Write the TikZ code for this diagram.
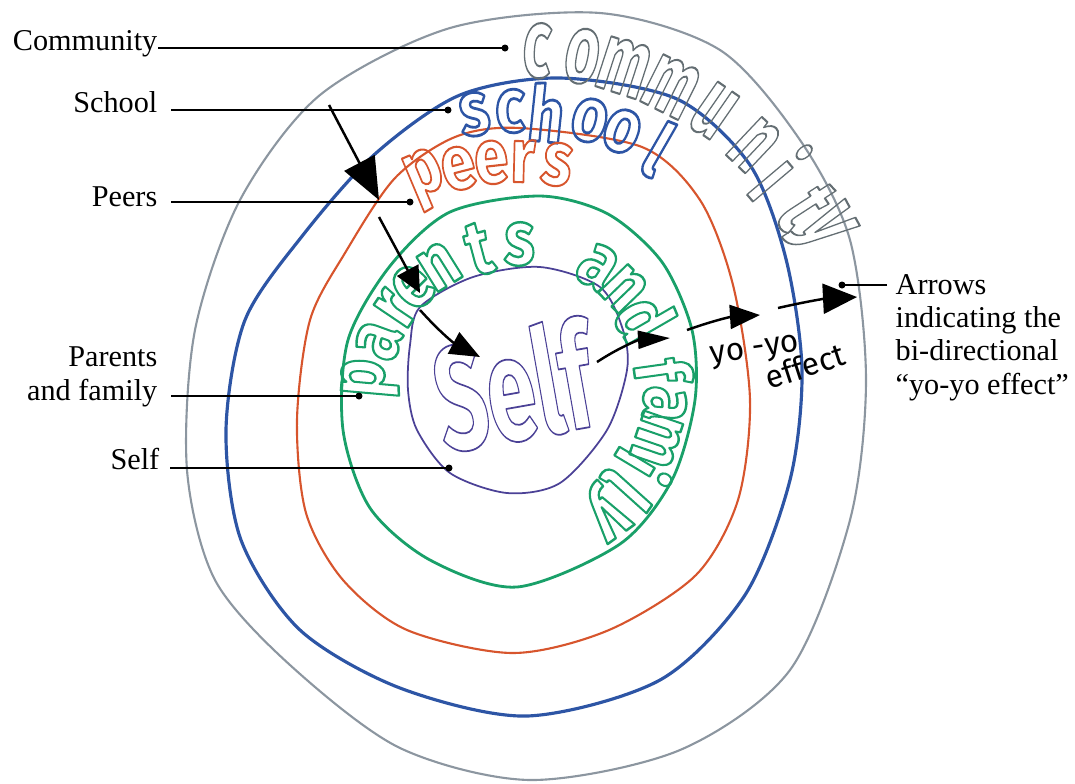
\documentclass[tikz,border=0pt]{standalone}
\usepackage{fontspec}
\setmainfont{Liberation Serif}
\newfontfamily\handfont{Fira Sans}
\usepackage{tikz}
\usetikzlibrary{arrows.meta, calc, positioning}

\definecolor{ringgray}{RGB}{140,150,160}
\definecolor{lettergray}{RGB}{100,110,115}
\definecolor{schoolblue}{RGB}{45,85,165}
\definecolor{peersred}{RGB}{215,85,45}
\definecolor{parentsgreen}{RGB}{25,160,105}
\definecolor{selfpurple}{RGB}{75,65,150}

% hollow letters: glyphs stroked, not filled
\newcommand{\bubble}[3][0.6]{\special{pdf:literal direct q #1 w 1 j 1 Tr}\textcolor{#2}{#3}\special{pdf:literal direct Q}}

\begin{document}
\begin{tikzpicture}[x=0.1mm, y=-0.1mm]
	\tikzstyle{ring}=[line width=0.6pt]
	\tikzstyle{lefttext}=[inner sep=0pt, font=\fontsize{8.6}{9.4}\selectfont]
	\tikzstyle{righttext}=[inner sep=0pt, font=\fontsize{8.6}{9.4}\selectfont, align=left]
	\tikzstyle{leader}=[line width=0.4pt]
	\tikzstyle{yoyo}=[line width=0.7pt, -{Triangle[length=3mm, width=2.4mm]}]
	\tikzstyle{commletter}=[inner sep=0pt, font=\handfont\bfseries\fontsize{28}{28}\selectfont]
	\tikzstyle{schoolletter}=[inner sep=0pt, font=\handfont\bfseries\fontsize{22}{22}\selectfont]
	\tikzstyle{peersletter}=[inner sep=0pt, font=\handfont\bfseries\fontsize{22}{22}\selectfont]
	\tikzstyle{parentsletter}=[inner sep=0pt, font=\handfont\bfseries\fontsize{22}{22}\selectfont]
	\tikzstyle{scribble}=[inner sep=0pt, font=\handfont\fontsize{9}{9}\selectfont]

	\useasboundingbox (0,0) rectangle (1075,783);
	\coordinate (ctr) at (517,395);
	\coordinate (ctrin) at (517,391);

	% Rings
	\draw [ring, ringgray] plot [smooth cycle] coordinates {(600,13) (720,50) (800,140) (850,240) (866,380) (850,520) (790,670) (680,750) (531,780) (400,748) (290,665) (215,580) (187,470) (195,330) (240,200) (320,95) (450,28)};
	\draw [ring, schoolblue, line width=0.9pt] plot [smooth cycle] coordinates {(560,78) (677,99) (750,165) (786,259) (802,370) (790,480) (745,595) (660,680) (527,716) (400,688) (300,630) (241,540) (226,430) (245,320) (303,235) (375,154) (460,95)};
	\draw [ring, peersred] plot [smooth cycle] coordinates {(520,128) (642,147) (700,200) (733,285) (750,400) (738,500) (696,575) (609,630) (513,653) (407,630) (343,580) (306,513) (297,420) (310,320) (345,253) (395,178) (455,137)};
	\draw [ring, parentsgreen, line width=0.8pt] plot [smooth cycle] coordinates {(540,196) (608,214) (662,262) (692,330) (695,400) (672,480) (620,544) (517,587) (430,560) (370,508) (343,430) (348,340) (390,266) (450,212)};
	\draw [ring, selfpurple, line width=0.5pt] plot [smooth cycle] coordinates {(420,307) (473,277) (540,267) (600,287) (623,330) (627,370) (607,430) (560,483) (507,493) (450,473) (417,430) (408,390) (410,345)};

	% Hand lettering
	\foreach \ch/\ang [count=\i] in {c/86.7, o/79.1, m/72, m/63.5, u/55.3, n/46.6, i/40.2, t/33, y/28.6}
		\node [commletter, rotate=\ang-90] (comm\i) at ([shift={(\ang:3.45cm)}]ctr) {\scalebox{0.6}[1]{\bubble{lettergray}{\ch}}};
	\foreach \ch/\ang [count=\i] in {s/98.6, c/91.4, h/84, o/75.2, o/68.3, l/60.1}
		\node [schoolletter, rotate=\ang-90] (school\i) at ([shift={(\ang:2.84cm)}]ctr) {\scalebox{0.8}[1]{\bubble[0.8]{schoolblue}{\ch}}};
	\foreach \ch/\ang [count=\i] in {p/112.8, e/104.5, e/96.3, r/88.6, s/80.1}
		\node [peersletter, rotate=\ang-90] (peers\i) at ([shift={(\ang:2.34cm)}]ctr) {\scalebox{0.8}[1]{\bubble{peersred}{\ch}}};
	\foreach \ch/\ang [count=\i] in {p/175, a/160, r/146, e/135, n/122, t/105, s/89}
		\node [parentsletter, rotate=\ang-90] (parents\i) at ([shift={(\ang:1.47cm)}]ctrin) {\scalebox{0.82}[1]{\bubble[0.7]{parentsgreen}{\ch}}};
	\foreach \ch/\ang [count=\i] in {a/57, n/44, d/30, f/8, a/-5, m/-19, i/-31, l/-42, y/-54}
		\node [parentsletter, rotate=\ang-90] (family\i) at ([shift={(\ang:1.48cm)}]ctrin) {\scalebox{0.82}[1]{\bubble[0.7]{parentsgreen}{\ch}}};
	\node at (513,385) [inner sep=0pt, rotate=10, font=\handfont\bfseries\fontsize{42}{42}\selectfont] (self) {\scalebox{0.6}[1]{\bubble[0.5]{selfpurple}{Self}}};

	% Yo-yo arrows
	\coordinate (a1s) at (329,105);
	\coordinate (a1e) at (379,200);
	\coordinate (a2s) at (379,217);
	\coordinate (a2e) at (420,293);
	\coordinate (a3s) at (420,310);
	\coordinate (a3e) at (480,357);
	\coordinate (a4s) at (597,362);
	\coordinate (a4e) at (670,338);
	\coordinate (a5s) at (687,330);
	\coordinate (a5e) at (760,315);
	\coordinate (a6s) at (778,308);
	\coordinate (a6e) at (857,297);
	\draw [yoyo, -{Triangle[length=4.2mm, width=3.4mm]}] (a1s) -- (a1e);
	\draw [yoyo, -{Triangle[length=2.6mm, width=2.4mm]}] (a2s) -- (a2e);
	\draw [yoyo] (a3s) to [bend right=10] (a3e);
	\draw [yoyo, -{Triangle[length=3.2mm, width=1.8mm]}] (a4s) to [bend left=15] (a4e);
	\draw [yoyo] (a5s) to [bend left=8] (a5e);
	\draw [yoyo, -{Triangle[length=3.4mm, width=3mm]}] (a6s) to [bend left=5] (a6e);
	\node at (755,352) [scribble, rotate=8] (yoyotext) {yo -yo};
	\node at (805,366) [scribble, rotate=18] (effecttext) {effect};

	% Labels
	\node at (158,50) [lefttext, anchor=base east] (lblcomm) {Community};
	\node at (158,112) [lefttext, anchor=base east] (lblschool) {School};
	\node at (158,206) [lefttext, anchor=base east] (lblpeers) {Peers};
	\node at (158,400) [lefttext, anchor=base east, align=right] (lblparents) {Parents\\and family};
	\node at (160,469) [lefttext, anchor=base east] (lblself) {Self};
	\node at (895,394) [righttext, anchor=base west] (lblarrows) {Arrows\\indicating the\\bi-directional\\“yo-yo effect”};

	\coordinate (dotcomm) at (505,48);
	\coordinate (dotschool) at (448,110);
	\coordinate (dotpeers) at (410,202);
	\coordinate (dotparents) at (359,396);
	\coordinate (dotself) at (449,468);
	\coordinate (dotarrows) at (842,285);

	\draw [leader] (lblcomm.east |- dotcomm) -- (dotcomm);
	\foreach \n in {school, peers, parents}
		\draw [leader, shorten <=1.3mm] (lbl\n.east |- dot\n) -- (dot\n);
	\draw [leader, shorten <=1mm] (lblself.east |- dotself) -- (dotself);
	\draw [leader, shorten <=0.8mm] (lblarrows.west |- dotarrows) -- (dotarrows);
	\foreach \n in {comm, school, peers, parents, self, arrows}
		\fill (dot\n) circle (0.35mm);
\end{tikzpicture}
\end{document}
